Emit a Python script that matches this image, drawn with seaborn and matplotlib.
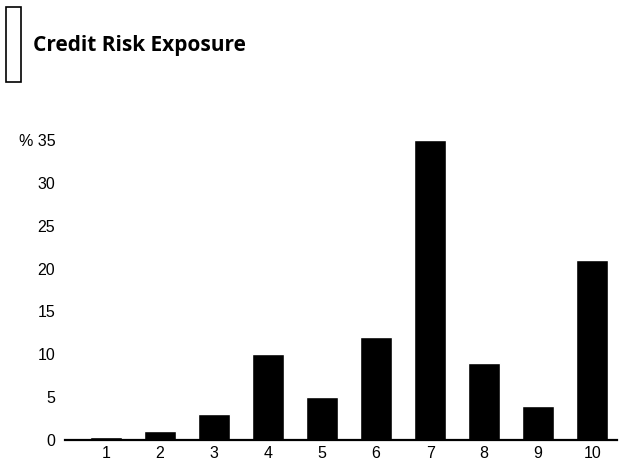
import matplotlib
matplotlib.use("Agg")
import matplotlib.pyplot as plt
import seaborn as sns
import pandas as pd
from matplotlib.patches import Rectangle

# Share of credit risk exposure by rating class
categories = ["1", "2", "3", "4", "5", "6", "7", "8", "9", "10"]
exposure_pct = [0.3, 1, 3, 10, 5, 12, 35, 9, 4, 21]
y_ticks = [0, 5, 10, 15, 20, 25, 30, 35]
y_tick_labels = ["0", "5", "10", "15", "20", "25", "30", "% 35"]
title = "Credit Risk Exposure"

sns.set_style("white")
plt.rcParams["font.family"] = ["Liberation Sans", "DejaVu Sans"]

W, H = 622, 465
fig = plt.figure(figsize=(W / 100, H / 100), dpi=100)
ax = fig.add_axes([65 / W, (H - 440) / H, (617 - 65) / W, 300 / H])

df = pd.DataFrame({"rating": categories, "exposure": exposure_pct})
sns.barplot(data=df, x="rating", y="exposure", order=categories,
            color="black", saturation=1, width=0.6, ax=ax)
for p in ax.patches:
    p.set_clip_on(False)

ax.set_xlim(-0.76, 9.46)
ax.set_ylim(0, 35)
ax.set_yticks(y_ticks)
ax.set_yticklabels(y_tick_labels)
ax.set_xlabel("")
ax.set_ylabel("")

for side in ["left", "right", "top"]:
    ax.spines[side].set_visible(False)
ax.spines["bottom"].set_color("black")
ax.spines["bottom"].set_linewidth(1.6)

ax.tick_params(axis="y", length=0, pad=7, labelsize=11.5, colors="black")
ax.tick_params(axis="x", length=0, pad=4, labelsize=11.5, colors="black")
ax.grid(False)

# Title with small outlined marker box at the left
fig.text(33 / W, 1 - 46 / H, title, fontsize=15, fontweight="bold",
         family=["Open Sans", "DejaVu Sans"], va="center", ha="left", color="black")
fig.add_artist(Rectangle((6 / W, 1 - 82 / H), 15 / W, 75 / H,
                         transform=fig.transFigure, fill=False,
                         edgecolor="black", linewidth=1.2))

fig.savefig("out.png", dpi=100, facecolor="white")
